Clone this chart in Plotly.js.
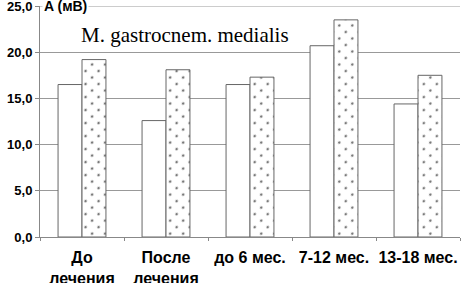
<!DOCTYPE html>
<html>
<head>
<meta charset="utf-8">
<script src="https://cdn.plot.ly/plotly-3.0.1.min.js"></script>
<style>html,body{margin:0;padding:0;background:#fff}#chart{width:461px;height:283px}</style>
</head>
<body>
<div id="chart"></div>
<script>
var categories = ["До<br>лечения", "После<br>лечения", "до 6 мес.", "7-12 мес.", "13-18 мес."];
var seriesPlain = [16.5, 12.6, 16.5, 20.7, 14.4];
var seriesDotted = [19.2, 18.1, 17.3, 23.5, 17.5];
var yTickVals = [0, 5, 10, 15, 20, 25];
var yTickText = ["0,0", "5,0", "10,0", "15,0", "20,0", "25,0"];
var yMax = 25;

var outline = {color: "#666", width: 1};
var traces = [
  {type: "bar", x: categories, y: seriesPlain, name: "a",
   marker: {color: "#ffffff", line: outline}, hoverinfo: "none"},
  {type: "bar", x: categories, y: seriesDotted, name: "b",
   marker: {color: "#ffffff", line: outline,
     pattern: {shape: ".", fgcolor: "#7a7a7a", bgcolor: "#ffffff", size: 9.2, solidity: 0.06}},
   hoverinfo: "none"}
];

var layout = {
  width: 461, height: 283,
  margin: {l: 40, r: 1, t: 6, b: 46},
  paper_bgcolor: "#fff", plot_bgcolor: "#fff",
  showlegend: false,
  barmode: "group", bargap: 0.43, bargroupgap: 0,
  font: {family: "Liberation Sans, Arial, sans-serif", color: "#000"},
  xaxis: {
    type: "category", tickson: "boundaries", ticks: "outside", ticklen: 3,
    tickcolor: "#888", showline: true, linecolor: "#888", linewidth: 1,
    showgrid: false, zeroline: false, tickangle: 0, ticklabeloverflow: "allow",
    ticklabelstandoff: 6,
    tickfont: {size: 16, weight: "bold", family: "Liberation Sans, Arial, sans-serif"}
  },
  yaxis: {
    range: [0, yMax], tickvals: yTickVals, ticktext: yTickText,
    ticks: "outside", ticklen: 4, tickcolor: "#888", ticklabeloverflow: "allow",
    showline: true, linecolor: "#888", linewidth: 1,
    showgrid: true, gridcolor: "#999", gridwidth: 1, zeroline: false,
    tickfont: {size: 13, weight: "bold", family: "Liberation Sans, Arial, sans-serif"}
  },
  shapes: [
    {type: "line", xref: "paper", yref: "y", x0: 0, x1: 1, y0: yMax, y1: yMax,
     line: {color: "#999", width: 1}, layer: "below"}
  ],
  annotations: [
    {text: "A (мВ)", xref: "paper", yref: "y", x: 0.005, y: yMax, xanchor: "left", yanchor: "middle",
     showarrow: false, bgcolor: "#fff", borderpad: 1,
     font: {size: 14, weight: "bold", family: "Liberation Sans, Arial, sans-serif", color: "#000"}},
    {text: "M. gastrocnem. medialis", xref: "paper", yref: "y", x: 0.345, y: 21.9,
     xanchor: "center", yanchor: "middle", showarrow: false,
     font: {size: 21, family: "Liberation Serif, Times New Roman, serif", color: "#000"}}
  ]
};

Plotly.newPlot("chart", traces, layout, {staticPlot: true, displayModeBar: false}).then(function (gd) {
  var pats = gd.querySelectorAll("pattern");
  pats.forEach(function (p) { p.setAttribute("patternTransform", "rotate(45)"); });
});
</script>
</body>
</html>
